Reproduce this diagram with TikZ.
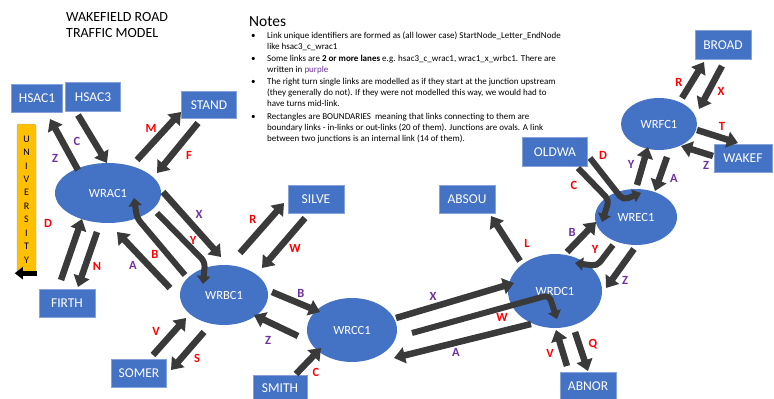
\documentclass[tikz,border=0pt]{standalone}
\usepackage{fontspec}
\setmainfont{Carlito}
\usetikzlibrary{arrows.meta,calc,shapes.geometric}
\definecolor{nodeblue}{HTML}{4472C4}
\definecolor{arrgray}{HTML}{3A3A3A}
\definecolor{lred}{HTML}{FF0000}
\definecolor{lpurple}{HTML}{7030A0}
\definecolor{univ}{HTML}{FFC000}
\begin{document}
\begin{tikzpicture}[x=1pt,y=-1pt,
  bnd/.style={draw=nodeblue!65!white, line width=0.7pt, fill=nodeblue, text=white, font=\fontsize{13.5}{13.5}\selectfont, inner sep=0pt},
  jn/.style={ellipse, fill=nodeblue, text=white, font=\fontsize{12.5}{12.5}\selectfont, inner sep=0pt},
  lk/.style={draw=arrgray, line width=6.5pt, -{Triangle[length=11pt,width=16pt]}},
  hk/.style={draw=arrgray, line width=6pt, rounded corners=5pt, -{Triangle[length=8pt,width=13pt]}},
  rl/.style={text=lred, font=\bfseries\fontsize{12.5}{12.5}\selectfont, inner sep=0pt},
  pl/.style={text=lpurple, font=\bfseries\fontsize{12.5}{12.5}\selectfont, inner sep=0pt},
  notes/.style={font=\fontsize{9}{11.4}\selectfont, align=left, inner sep=0pt, text=black, anchor=base west},
]
\fill[white] (0,0) rectangle (774,399);
\useasboundingbox (0,0) rectangle (774,399);

% title and notes (base anchor = baseline of the last line)
\node[anchor=base west, font=\fontsize{14}{16}\selectfont, align=left, inner sep=0pt] (title) at (66,37) {WAKEFIELD ROAD\\TRAFFIC MODEL};
\node[anchor=base west, font=\fontsize{15.5}{15.5}\selectfont, inner sep=0pt] (notehead) at (249,26) {Notes};
\node[notes] (b1) at (251,38) {•};
\node[notes] (n1) at (267,49.4) {Link unique identifiers are formed as (all lower case) StartNode\_Letter\_EndNode\\like hsac3\_c\_wrac1};
\node[notes] (b2) at (251,61.5) {•};
\node[notes] (n2) at (267,72.9) {Some links are \textbf{2 or more lanes} e.g. hsac3\_c\_wrac1, wrac1\_x\_wrbc1. There are\\written in \textcolor{lpurple}{purple}};
\node[notes] (b3) at (251,84) {•};
\node[notes] (n3) at (267,106.8) {The right turn single links are modelled as if they start at the junction upstream\\(they generally do not). If they were not modelled this way, we would had to\\have turns mid-link.};
\node[notes] (b4) at (251,119) {•};
\node[notes] (n4) at (267,141.8) {Rectangles are BOUNDARIES\ \ meaning that links connecting to them are\\boundary links - in-links or out-links (20 of them). Junctions are ovals. A link\\between two junctions is an internal link (14 of them).};

% boundaries
\node[bnd, minimum width=51pt, minimum height=28pt] (HSAC1) at (37,98) {HSAC1};
\node[bnd, minimum width=55pt, minimum height=29pt] (HSAC3) at (93,97) {HSAC3};
\node[bnd, minimum width=55pt, minimum height=27pt] (STAND) at (209,105) {STAND};
\node[bnd, minimum width=56pt, minimum height=28pt] (FIRTH) at (67,303) {FIRTH};
\node[bnd, minimum width=55pt, minimum height=28pt] (SOMER) at (139,373) {SOMER};
\node[bnd, minimum width=56pt, minimum height=28pt] (SILVE) at (316,199) {SILVE};
\node[bnd, minimum width=54pt, minimum height=26pt] (SMITH) at (280,388) {SMITH};
\node[bnd, minimum width=56pt, minimum height=28pt] (ABSOU) at (467,199) {ABSOU};
\node[bnd, minimum width=56pt, minimum height=27pt] (ABNOR) at (588,386) {ABNOR};
\node[bnd, minimum width=65pt, minimum height=29pt] (OLDWA) at (555,152) {OLDWA};
\node[bnd, minimum width=56pt, minimum height=29pt] (BROAD) at (723,45) {BROAD};
\node[bnd, minimum width=58pt, minimum height=28pt] (WAKEF) at (743,158) {WAKEF};

% university
\node[draw=gray!70, fill=univ, rounded corners=2pt, minimum width=19pt, minimum height=151pt, inner sep=0pt, font=\fontsize{10}{13.45}\selectfont, align=center] (UNIV) at (26.5,199.5) {U\\N\\I\\V\\E\\R\\S\\I\\T\\Y};
\draw[draw=black, line width=5pt, -{Triangle[length=8pt,width=12pt]}] ($(UNIV.south east)+(1,-2)$) -- ($(UNIV.south west)+(-2,-2)$);

% junctions
\node[jn, minimum width=106pt, minimum height=60pt] (WRAC1) at (108,193) {WRAC1};
\node[jn, minimum width=88pt, minimum height=60pt] (WRBC1) at (224,295) {WRBC1};
\node[jn, minimum width=90pt, minimum height=64pt] (WRCC1) at (352,330) {WRCC1};
\node[jn, minimum width=94pt, minimum height=74pt] (WRDC1) at (555,291) {WRDC1};
\node[jn, minimum width=82pt, minimum height=56pt] (WREC1) at (636,217) {WREC1};
\node[jn, minimum width=76pt, minimum height=52pt] (WRFC1) at (659,124) {WRFC1};

% links around WRAC1
\draw[lk] ($(WRAC1)+(-30,-23)$) -- ($(HSAC1)+(13,21)$);
\draw[lk] ($(HSAC3)+(-15,18)$) -- ($(WRAC1)+(-1,-30)$);
\draw[lk] ($(WRAC1)+(29,-33)$) -- ($(STAND)+(-28,7)$);
\draw[lk] ($(STAND)+(-11,18)$) -- ($(WRAC1)+(49,-20)$);
\draw[lk] ($(FIRTH)+(-6,-23)$) -- ($(WRAC1)+(-26,26)$);
\draw[lk] ($(WRAC1)+(-11,39)$) -- ($(FIRTH)+(11,-16)$);
\draw[lk] ($(WRBC1)+(-54,-7)$) -- ($(WRAC1)+(9,39)$);
\draw[hk] ($(WRBC1)+(-39,-20)$) -- ($(WRAC1)+(29,25)$) -- ($(WRAC1)+(26,5)$);
\draw[hk] ($(WRAC1)+(49,20)$) -- ($(WRBC1)+(-19,-33)$) -- ($(WRBC1)+(-21,-11)$);
\draw[lk] ($(WRAC1)+(55,-1)$) -- ($(WRBC1)+(-3,-38)$);

% links around WRBC1
\draw[lk] ($(WRBC1)+(16,-42)$) -- ($(SILVE)+(-32,4)$);
\draw[lk] ($(SILVE)+(-11,19)$) -- ($(WRBC1)+(38,-27)$);
\draw[lk] ($(SOMER)+(14,-18)$) -- ($(WRBC1)+(-38,23)$);
\draw[lk] ($(WRBC1)+(-20,37)$) -- ($(SOMER)+(32,-3)$);
\draw[lk] ($(WRBC1)+(48,-3)$) -- ($(WRCC1)+(-32,-18)$);
\draw[lk] ($(WRCC1)+(-54,6)$) -- ($(WRBC1)+(30,20)$);
\draw[lk] ($(SMITH)+(16,-14)$) -- ($(WRCC1)+(-31,18)$);

% WRCC1 - WRDC1 and around WRDC1
\draw[lk] ($(WRCC1)+(44,-12)$) -- ($(WRDC1)+(-41,-8)$);
\draw[hk] ($(WRCC1)+(60,3)$) -- ($(WRDC1)+(-6,4)$) -- ($(WRDC1)+(2,28)$);
\draw[lk] ($(WRDC1)+(-24,33)$) -- ($(WRCC1)+(42,28)$);
\draw[lk] ($(WRDC1)+(-35,-30)$) -- ($(ABSOU)+(24,17)$);
\draw[lk] ($(ABNOR)+(-21,-20)$) -- ($(WRDC1)+(1,39)$);
\draw[lk] ($(WRDC1)+(20,41)$) -- ($(ABNOR)+(0,-15)$);
\draw[lk] ($(WRDC1)+(12,-39)$) -- ($(WREC1)+(-40,5)$);
\draw[hk] ($(WREC1)+(-23,28)$) -- ($(WRDC1)+(42,-25)$) -- ($(WRDC1)+(20,-28)$);
\draw[lk] ($(WREC1)+(-2,32)$) -- ($(WRDC1)+(51,-3)$);

% around WREC1 and WRFC1
\draw[hk] ($(OLDWA)+(23,16)$) -- ($(WREC1)+(-27,-17)$) -- ($(WREC1)+(-34,5)$);
\draw[hk] ($(OLDWA)+(35,6)$) -- ($(WREC1)+(-13,-17)$) -- ($(WREC1)+(5,-24)$);
\draw[lk] ($(WREC1)+(1,-32)$) -- ($(WRFC1)+(-11,23)$);
\draw[lk] ($(WRFC1)+(8,33)$) -- ($(WREC1)+(19,-26)$);
\draw[lk] ($(WRFC1)+(23,-26)$) -- ($(BROAD)+(-19,17)$);
\draw[lk] ($(BROAD)+(-1,21)$) -- ($(WRFC1)+(40,-15)$);
\draw[lk] ($(WRFC1)+(38,6)$) -- ($(WAKEF)+(-5,-15)$);
\draw[lk] ($(WAKEF)+(-30,-2)$) -- ($(WRFC1)+(22,22)$);

% labels
\node[pl] (lz1) at (55,158) {Z};
\node[pl] (lc1) at (77,141) {C};
\node[rl] (lm1) at (151,128) {M};
\node[rl] (lf1) at (189,155) {F};
\node[rl] (ld1) at (48,223) {D};
\node[rl] (ln1) at (97,266) {N};
\node[pl] (la1) at (133,265) {A};
\node[rl] (lb1) at (155,254) {B};
\node[rl] (ly1) at (193,240) {Y};
\node[pl] (lx1) at (199,214) {X};
\node[rl] (lr2) at (253,219) {R};
\node[rl] (lw2) at (295,248) {W};
\node[rl] (lv2) at (156,331) {V};
\node[rl] (ls2) at (197,358) {S};
\node[pl] (lb2) at (301,293) {B};
\node[pl] (lz2) at (268,340) {Z};
\node[rl] (lc3) at (316,372) {C};
\node[pl] (lx3) at (433,296) {X};
\node[rl] (lw3) at (502,317) {W};
\node[pl] (la3) at (456,352) {A};
\node[rl] (ll4) at (527,243) {L};
\node[rl] (lv4) at (550,353) {V};
\node[rl] (lq4) at (593,344) {Q};
\node[pl] (lb4) at (572,232) {B};
\node[rl] (ly4) at (595,249) {Y};
\node[pl] (lz4) at (625,280) {Z};
\node[rl] (lc5) at (574,185) {C};
\node[rl] (ld5) at (603,155) {D};
\node[pl] (ly5) at (631,164) {Y};
\node[pl] (la5) at (674,178) {A};
\node[rl] (lr6) at (679,82) {R};
\node[rl] (lx6) at (721,91) {X};
\node[rl] (lt6) at (722,126) {T};
\node[pl] (lz6) at (706,165) {Z};
\end{tikzpicture}
\end{document}
